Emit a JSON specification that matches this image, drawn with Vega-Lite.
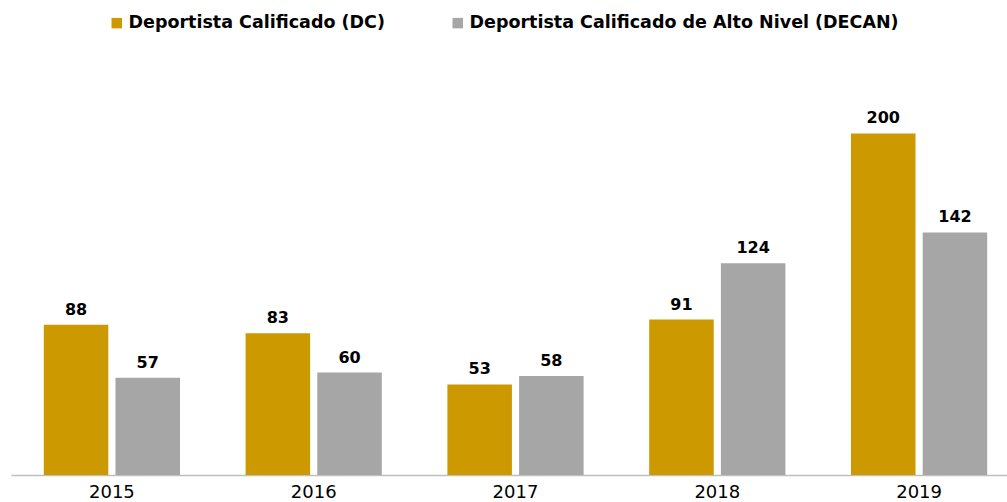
{
  "$schema": "https://vega.github.io/schema/vega-lite/v6.json",
  "autosize": {"type": "none"},
  "width": 1009,
  "height": 427,
  "padding": {"left": 11, "top": 48, "right": 0, "bottom": 27},
  "background": "white",
  "config": {
    "view": {"stroke": null},
    "font": "DejaVu Sans"
  },
  "data": {
    "values": [
      {"year": "2015", "serie": "Deportista Calificado (DC)", "value": 88},
      {"year": "2015", "serie": "Deportista Calificado de Alto Nivel (DECAN)", "value": 57},
      {"year": "2016", "serie": "Deportista Calificado (DC)", "value": 83},
      {"year": "2016", "serie": "Deportista Calificado de Alto Nivel (DECAN)", "value": 60},
      {"year": "2017", "serie": "Deportista Calificado (DC)", "value": 53},
      {"year": "2017", "serie": "Deportista Calificado de Alto Nivel (DECAN)", "value": 58},
      {"year": "2018", "serie": "Deportista Calificado (DC)", "value": 91},
      {"year": "2018", "serie": "Deportista Calificado de Alto Nivel (DECAN)", "value": 124},
      {"year": "2019", "serie": "Deportista Calificado (DC)", "value": 200},
      {"year": "2019", "serie": "Deportista Calificado de Alto Nivel (DECAN)", "value": 142}
    ]
  },
  "encoding": {
    "x": {
      "field": "year", "type": "nominal",
      "scale": {"paddingInner": 0.325, "paddingOuter": 0.1625},
      "axis": {
        "title": null, "labelAngle": 0, "ticks": false, "grid": false,
        "labelFont": "DejaVu Sans", "labelFontSize": 18, "labelColor": "#000000", "labelPadding": 8,
        "domainColor": "#bfbfbf", "domainWidth": 1.5
      }
    },
    "xOffset": {
      "field": "serie", "type": "nominal",
      "scale": {"paddingInner": 0.1}
    },
    "y": {
      "field": "value", "type": "quantitative",
      "scale": {"domain": [0, 250], "nice": false},
      "axis": null
    }
  },
  "layer": [
    {
      "mark": {"type": "bar"},
      "encoding": {
        "color": {
          "field": "serie", "type": "nominal",
          "scale": {"range": ["#CC9900", "#A6A6A6"]},
          "legend": {
            "title": null, "orient": "none", "direction": "horizontal",
            "legendX": 97, "legendY": -34,
            "symbolType": "square", "symbolSize": 110, "symbolStrokeWidth": 0,
            "labelFontSize": 17.5, "labelFontWeight": "bold", "labelColor": "#000000",
            "labelFont": "DejaVu Sans", "labelOffset": 3, "columnPadding": 64,
            "labelLimit": 700
          }
        }
      }
    },
    {
      "mark": {"type": "text", "baseline": "bottom", "dy": -7, "fontSize": 16, "fontWeight": "bold", "color": "#000000", "font": "DejaVu Sans"},
      "encoding": {"text": {"field": "value", "type": "quantitative"}}
    }
  ]
}
